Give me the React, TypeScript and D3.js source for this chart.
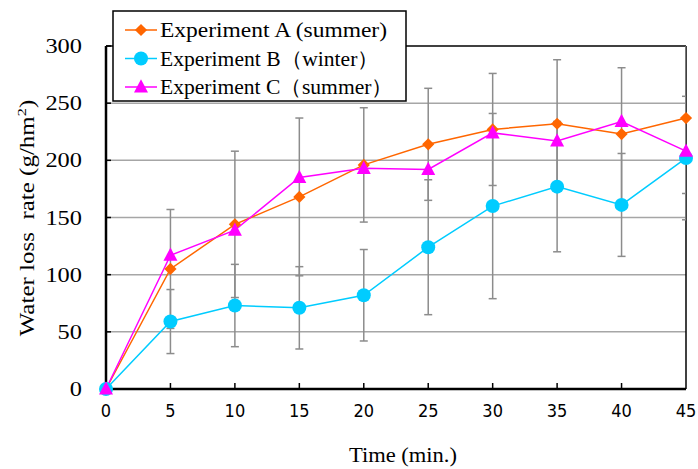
import React from "react";
import * as d3 from "d3";

const times = [0, 5, 10, 15, 20, 25, 30, 35, 40, 45];
const seriesA = [0, 105, 144, 168, 196, 214, 227, 232, 223, 237];
const seriesB = [0, 59, 73, 71, 82, 124, 160, 177, 161, 202];
const seriesC = [0, 117, 139, 185, 193, 192, 224, 217, 234, 208];
const errorA = [0, 52, 64, 69, 50, 49, 49, 56, 58, 66];
const errorB = [0, 28, 36, 36, 40, 59, 81, 57, 45, 54];
const yTicks = [0, 50, 100, 150, 200, 250, 300];
const legendLabels = [
  "Experiment A (summer)",
  "Experiment B（winter）",
  "Experiment C（summer）",
];
const legendWidths = [227, 219, 233];

const width = 698;
const height = 469;
const margin = { left: 106, right: 12, top: 46, bottom: 80 };
const serif = "'Liberation Serif', 'Times New Roman', serif";

export default function App() {
  const x = d3
    .scaleLinear()
    .domain([0, 45])
    .range([margin.left, width - margin.right]);
  const y = d3
    .scaleLinear()
    .domain([0, 300])
    .range([height - margin.bottom, margin.top]);

  const line = d3
    .line<number>()
    .x((d, i) => x(times[i]))
    .y((d) => y(d));

  const series = [
    { values: seriesA, errors: errorA, color: "#FF6600", shape: "diamond" },
    { values: seriesB, errors: errorB, color: "#00CCFF", shape: "circle" },
    { values: seriesC, errors: null, color: "#FF00FF", shape: "triangle" },
  ];

  const marker = (shape: string, cx: number, cy: number, color: string, key: string) => {
    if (shape === "diamond") {
      const p = d3.symbol(d3.symbolDiamond2, 95)();
      return <path key={key} d={p || ""} transform={`translate(${cx},${cy})`} fill={color} />;
    }
    if (shape === "circle") {
      return <circle key={key} cx={cx} cy={cy} r={7} fill={color} />;
    }
    const s = 7;
    return (
      <path
        key={key}
        d={`M${cx},${cy - s * 1.1}L${cx + s},${cy + s * 0.8}L${cx - s},${cy + s * 0.8}Z`}
        fill={color}
      />
    );
  };

  const [x0, x1] = x.range();
  const [yb, yt] = y.range();

  return (
    <svg
      width={width}
      height={height}
      style={{ position: "absolute", left: 0, top: 0, background: "#fff" }}
    >
      <defs>
        <clipPath id="plot">
          <rect x={x0} y={yt} width={x1 - x0} height={yb - yt} />
        </clipPath>
      </defs>
      {/* grid */}
      {yTicks.slice(1, -1).map((t) => (
        <line key={t} x1={x0} x2={x1} y1={y(t)} y2={y(t)} stroke="#a6a6a6" strokeWidth={1.5} />
      ))}
      {/* frame */}
      <line x1={x0} x2={x1} y1={yt} y2={yt} stroke="#000" strokeWidth={1.5} />
      <line x1={x1} x2={x1} y1={yt} y2={yb} stroke="#000" strokeWidth={1.5} />

      {/* error bars */}
      <g clipPath="url(#plot)">
        {series.map((s, si) =>
          s.errors
            ? s.values.map((v, i) => {
                const e = s.errors![i];
                if (!e) return null;
                const cx = x(times[i]);
                return (
                  <g key={`e${si}-${i}`} stroke="#8c8c8c" strokeWidth={1.5}>
                    <line x1={cx} x2={cx} y1={y(v - e)} y2={y(v + e)} />
                    <line x1={cx - 4} x2={cx + 4} y1={y(v - e)} y2={y(v - e)} />
                    <line x1={cx - 4} x2={cx + 4} y1={y(v + e)} y2={y(v + e)} />
                  </g>
                );
              })
            : null
        )}
      </g>

      {/* axes */}
      <line x1={x0} x2={x1} y1={yb} y2={yb} stroke="#000" strokeWidth={2.5} />
      <line x1={x0} x2={x0} y1={yt} y2={yb} stroke="#000" strokeWidth={2.5} />
      {yTicks.map((t) => (
        <g key={`yt${t}`}>
          <line x1={x0} x2={x0 + 5} y1={y(t)} y2={y(t)} stroke="#000" strokeWidth={1.5} />
          <text
            x={x0 - 24}
            y={y(t)}
            dy="0.35em"
            textAnchor="end"
            fontFamily={serif}
            fontSize={20}
            textLength={String(t).length * 12.2}
            lengthAdjust="spacingAndGlyphs"
          >
            {t}
          </text>
        </g>
      ))}
      {times.map((t) => (
        <g key={`xt${t}`}>
          {t > 0 && t < 45 ? (
            <line x1={x(t)} x2={x(t)} y1={yb} y2={yb - 6} stroke="#000" strokeWidth={1.5} />
          ) : null}
          <text
            x={x(t)}
            y={yb + 28}
            textAnchor="middle"
            fontFamily="'DejaVu Sans Condensed', 'DejaVu Sans'"
            fontStretch="condensed"
            fontSize={18}
          >
            {t}
          </text>
        </g>
      ))}

      {/* lines and markers */}
      {series.map((s, si) => (
        <path key={`l${si}`} d={line(s.values) || ""} fill="none" stroke={s.color} strokeWidth={1.5} />
      ))}
      {series.map((s, si) =>
        s.values.map((v, i) => marker(s.shape, x(times[i]), y(v), s.color, `m${si}-${i}`))
      )}

      {/* titles */}
      <text
        x={403}
        y={462}
        textAnchor="middle"
        fontFamily={serif}
        fontSize={20}
        textLength={108}
        lengthAdjust="spacingAndGlyphs"
      >
        Time (min.)
      </text>
      <text
        transform={`translate(34,218) rotate(-90) scale(1.25,1)`}
        textAnchor="middle"
        fontFamily={serif}
        fontSize={20}
      >
        Water loss{"\u00a0"} rate (g/hm
        <tspan fontSize={13} dy={-8}>2</tspan>
        <tspan dy={8}>)</tspan>
      </text>

      {/* legend */}
      <rect x={113} y={11} width={293} height={90} fill="#fff" stroke="#000" strokeWidth={1.5} />
      {series.map((s, i) => {
        const ly = 30 + i * 28.5;
        return (
          <g key={`lg${i}`}>
            <line x1={125} x2={157} y1={ly} y2={ly} stroke={s.color} strokeWidth={1.5} />
            {marker(s.shape, 141, ly, s.color, `lm${i}`)}
            <text
              x={160}
              y={ly}
              dy="0.35em"
              fontFamily={serif}
              fontSize={21}
              textLength={legendWidths[i]}
              lengthAdjust="spacingAndGlyphs"
            >
              {legendLabels[i]}
            </text>
          </g>
        );
      })}
    </svg>
  );
}
